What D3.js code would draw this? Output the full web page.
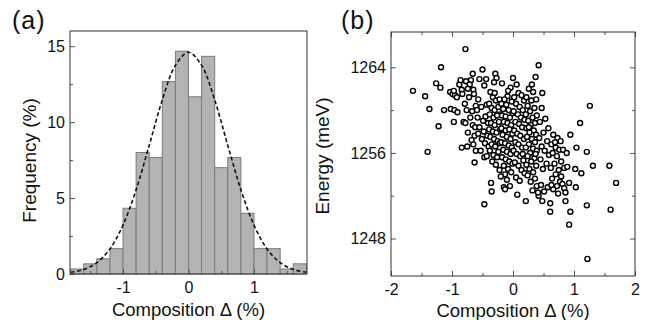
<!DOCTYPE html>
<html>
<head>
<meta charset="utf-8">
<script src="https://cdn.jsdelivr.net/npm/d3@7"></script>
<style>
  body { margin: 0; background: #fff; }
  svg { display: block; }
  text { font-family: "Liberation Sans", Arial, sans-serif; fill: #111; }
</style>
</head>
<body>
<svg id="chart" width="650" height="320"></svg>
<script>
// ---------------------------------------------------------------------------
// Données

// (a) histogramme : bords des classes (largeur 0.2 %) et fréquences (%)
const binEdges = [-1.8, -1.6, -1.4, -1.2, -1.0, -0.8, -0.6, -0.4, -0.2, 0, 0.2, 0.4, 0.6, 0.8, 1.0, 1.2, 1.4, 1.6, 1.8];
const binFreq = [0.33, 0.67, 1.0, 1.67, 4.33, 8.0, 7.67, 12.67, 14.67, 11.67, 14.33, 7.0, 7.67, 4.0, 1.67, 1.67, 0.33, 0.67];

// (a) courbe d'ajustement en pointillés (valeurs lues)
const fitX = [-1.8, -1.6, -1.4, -1.2, -1.0, -0.8, -0.6, -0.4, -0.2, 0, 0.2, 0.4, 0.6, 0.8, 1.0, 1.2, 1.4, 1.6, 1.8];
const fitY = [0.11, 0.30, 0.75, 1.65, 3.22, 5.55, 8.47, 11.46, 13.74, 14.6, 13.74, 11.46, 8.47, 5.55, 3.22, 1.65, 0.75, 0.30, 0.11];

// ticks (a)
const freqTicks = [0, 5, 10, 15];
const freqMinor = [2.5, 7.5, 12.5];
const compTicksA = [-1, 0, 1];
const compMinorA = [-1.5, -0.5, 0.5, 1.5];

// ticks (b)
const compTicksB = [-2, -1, 0, 1, 2];
const compMinorB = [-1.5, -0.5, 0.5, 1.5];
const energyTicks = [1248, 1256, 1264];
const energyMinor = [1252, 1260];

// (b) nuage de points : [composition (%), énergie (meV)]
const scatterPoints = [
  // -1.8 .. -1.0
  [-1.64, 1261.8],
  [-1.44, 1261.3], [-1.40, 1256.1],
  [-1.37, 1260.1], [-1.26, 1262.5], [-1.22, 1258.5],
  [-1.18, 1264.0], [-1.19, 1262.1], [-1.13, 1260.0], [-1.03, 1261.7], [-1.02, 1260.1],
  // -1.0 .. -0.8
  [-0.99, 1261.5], [-0.95, 1261.4], [-0.92, 1261.2], [-0.97, 1261.8], [-0.96, 1260.0], [-0.91, 1259.8],
  [-0.97, 1258.9], [-0.84, 1256.5], [-0.88, 1262.4], [-0.84, 1261.9], [-0.83, 1261.5], [-0.81, 1258.9], [-0.86, 1262.8],
  // -0.8 .. -0.6
  [-0.78, 1265.7], [-0.66, 1263.4], [-0.69, 1262.8], [-0.77, 1262.7], [-0.71, 1262.4], [-0.74, 1262.0],
  [-0.65, 1261.9], [-0.64, 1261.5], [-0.72, 1261.2], [-0.79, 1260.6], [-0.76, 1260.0], [-0.67, 1259.9],
  [-0.61, 1260.4], [-0.70, 1259.3], [-0.66, 1258.6], [-0.62, 1258.4], [-0.74, 1257.9], [-0.63, 1257.6],
  [-0.68, 1257.2], [-0.75, 1256.6], [-0.65, 1256.8], [-0.61, 1256.2], [-0.63, 1255.1], [-0.78, 1258.8],
  // -0.6 .. -0.4
  [-0.50, 1263.8], [-0.55, 1262.9], [-0.44, 1262.9], [-0.47, 1262.3], [-0.57, 1261.0], [-0.52, 1260.3],
  [-0.43, 1260.5], [-0.58, 1259.3], [-0.49, 1259.0], [-0.45, 1259.4], [-0.41, 1258.8], [-0.55, 1258.4],
  [-0.48, 1258.0], [-0.42, 1257.6], [-0.57, 1257.8], [-0.51, 1257.3], [-0.46, 1256.9], [-0.40, 1256.6],
  [-0.53, 1256.2], [-0.47, 1255.6], [-0.43, 1255.7], [-0.47, 1251.2], [-0.59, 1260.0],
  // -0.4 .. -0.2
  [-0.29, 1263.4], [-0.27, 1263.0], [-0.31, 1262.6], [-0.37, 1261.7], [-0.33, 1261.2], [-0.28, 1260.9],
  [-0.22, 1261.0], [-0.39, 1260.6], [-0.35, 1260.2], [-0.30, 1260.0], [-0.24, 1260.3], [-0.21, 1259.6],
  [-0.38, 1259.6], [-0.32, 1259.3], [-0.26, 1259.5], [-0.36, 1258.8], [-0.30, 1258.6], [-0.23, 1258.9],
  [-0.39, 1258.2], [-0.33, 1258.0], [-0.27, 1257.9], [-0.21, 1258.2], [-0.37, 1257.5], [-0.31, 1257.3],
  [-0.25, 1257.1], [-0.35, 1256.8], [-0.29, 1256.6], [-0.22, 1256.9], [-0.38, 1256.2], [-0.32, 1255.8],
  [-0.26, 1255.6], [-0.34, 1255.2], [-0.28, 1254.9], [-0.22, 1254.4], [-0.36, 1253.2], [-0.35, 1252.4],
  [-0.24, 1256.1], [-0.30, 1261.6],
  // -0.2 .. 0
  [-0.18, 1262.5], [-0.09, 1261.3], [-0.04, 1262.1], [-0.14, 1261.0], [-0.19, 1260.6], [-0.11, 1260.5],
  [-0.02, 1260.8], [-0.16, 1260.1], [-0.07, 1260.0], [-0.01, 1259.7], [-0.18, 1259.5], [-0.12, 1259.4],
  [-0.05, 1259.3], [-0.15, 1258.9], [-0.09, 1258.8], [-0.03, 1258.6], [-0.19, 1258.3], [-0.12, 1258.1],
  [-0.06, 1258.2], [-0.01, 1257.8], [-0.17, 1257.7], [-0.10, 1257.5], [-0.04, 1257.3], [-0.19, 1257.0],
  [-0.13, 1256.9], [-0.07, 1256.7], [-0.02, 1256.5], [-0.16, 1256.3], [-0.10, 1256.1], [-0.04, 1255.9],
  [-0.18, 1255.6], [-0.12, 1255.4], [-0.06, 1255.2], [-0.01, 1255.0], [-0.15, 1254.8], [-0.08, 1254.5],
  [-0.03, 1254.2], [-0.13, 1254.0], [-0.20, 1253.8], [-0.10, 1253.5], [-0.15, 1252.8], [-0.05, 1252.9],
  [-0.13, 1252.6], [-0.08, 1261.8],
  // 0 .. 0.2
  [0.00, 1263.0], [0.06, 1262.4], [0.09, 1261.6], [0.02, 1261.2], [0.14, 1261.4], [0.18, 1260.9],
  [0.05, 1260.6], [0.11, 1260.3], [0.16, 1260.0], [0.01, 1259.9], [0.08, 1259.6], [0.13, 1259.3],
  [0.19, 1259.1], [0.04, 1258.9], [0.10, 1258.7], [0.15, 1258.4], [0.02, 1258.1], [0.07, 1257.8],
  [0.12, 1257.6], [0.18, 1257.3], [0.04, 1257.0], [0.09, 1256.8], [0.15, 1256.5], [0.01, 1256.2],
  [0.06, 1255.9], [0.12, 1255.7], [0.17, 1255.3], [0.03, 1255.1], [0.09, 1254.8], [0.14, 1254.4],
  [0.19, 1254.1], [0.05, 1253.7], [0.11, 1253.4], [0.07, 1252.1], [0.16, 1255.9],
  // 0.2 .. 0.4
  [0.37, 1263.1], [0.26, 1262.0], [0.33, 1261.7], [0.22, 1261.2], [0.30, 1260.9], [0.38, 1261.0],
  [0.24, 1260.4], [0.35, 1260.2], [0.28, 1259.9], [0.21, 1259.6], [0.39, 1259.5], [0.32, 1259.3],
  [0.25, 1259.0], [0.36, 1258.8], [0.29, 1258.6], [0.22, 1258.3], [0.34, 1258.1], [0.27, 1257.9],
  [0.38, 1257.7], [0.23, 1257.5], [0.31, 1257.3], [0.36, 1257.0], [0.26, 1256.8], [0.21, 1256.5],
  [0.33, 1256.4], [0.39, 1256.2], [0.28, 1256.0], [0.24, 1255.7], [0.35, 1255.5], [0.30, 1255.2],
  [0.22, 1254.9], [0.38, 1254.8], [0.27, 1254.5], [0.33, 1254.2], [0.24, 1253.9], [0.36, 1253.6],
  [0.29, 1253.3], [0.39, 1252.9], [0.21, 1251.5], [0.32, 1252.5], [0.26, 1258.4], [0.31, 1262.4],
  [0.37, 1255.9],
  // 0.4 .. 0.6
  [0.42, 1264.2], [0.48, 1261.6], [0.47, 1260.2], [0.53, 1259.2], [0.44, 1258.9], [0.58, 1258.3],
  [0.50, 1257.9], [0.43, 1257.4], [0.56, 1257.1], [0.47, 1256.6], [0.52, 1256.2], [0.59, 1255.8],
  [0.45, 1255.4], [0.55, 1255.0], [0.49, 1254.5], [0.42, 1252.0], [0.51, 1252.4], [0.41, 1252.3],
  [0.48, 1251.5], [0.57, 1252.8], [0.46, 1253.0],
  // 0.6 .. 0.8
  [0.61, 1250.5], [0.61, 1251.3], [0.66, 1257.7], [0.73, 1257.4], [0.78, 1257.1], [0.63, 1256.8],
  [0.70, 1256.5], [0.76, 1256.3], [0.65, 1256.0], [0.72, 1255.7], [0.79, 1255.2], [0.68, 1255.0],
  [0.62, 1254.6], [0.75, 1254.4], [0.70, 1254.0], [0.64, 1253.6], [0.77, 1253.3], [0.72, 1252.9],
  [0.79, 1253.8], [0.66, 1252.6], [0.74, 1252.2], [0.69, 1257.0], [0.63, 1253.0],
  // 0.8 .. 1.0
  [0.94, 1257.7], [0.82, 1256.3], [0.88, 1256.0], [0.84, 1254.6], [0.81, 1253.1], [0.84, 1252.7],
  [0.86, 1252.3], [0.86, 1251.5], [0.92, 1253.2], [0.94, 1250.5], [0.92, 1249.3], [0.89, 1254.7],
  // 1.0 .. 1.8
  [1.10, 1258.8], [1.04, 1256.5], [1.02, 1254.5], [1.12, 1254.1], [1.03, 1252.8],
  [1.26, 1260.4], [1.21, 1256.1], [1.31, 1254.8], [1.21, 1251.1], [1.22, 1246.1],
  [1.58, 1254.8],
  [1.69, 1253.2], [1.60, 1250.7]
];

// ---------------------------------------------------------------------------
// Canevas

const svg = d3.select("#chart");

const frameA = { left: 70, right: 307, top: 31, bottom: 274 };
const frameB = { left: 391, right: 635, top: 32, bottom: 276 };

const frameColor = "#333";
const tickColor = "#555";
const tickFont = "16px";
const titleFont = "18.5px";

// format des étiquettes avec tiret simple "-"
const plainFormat = d => `${d}`;

// ---------------------------------------------------------------------------
// Panneau (a) : histogramme

const xA = d3.scaleLinear().domain([-1.81, 1.81]).range([frameA.left, frameA.right]);
const yA = d3.scaleLinear().domain([0, 16]).range([frameA.bottom, frameA.top]);

const gA = svg.append("g");

// barres
gA.selectAll("rect.bar")
  .data(binFreq)
  .join("rect")
  .attr("class", "bar")
  .attr("x", (d, i) => xA(binEdges[i]))
  .attr("y", d => yA(d))
  .attr("width", (d, i) => xA(binEdges[i + 1]) - xA(binEdges[i]))
  .attr("height", d => yA(0) - yA(d))
  .attr("fill", "#b3b3b3")
  .attr("stroke", "#7a7a7a")
  .attr("stroke-width", 1);

// courbe d'ajustement
const fitLine = d3.line()
  .x(d => xA(d[0]))
  .y(d => yA(d[1]))
  .curve(d3.curveCatmullRom);

gA.append("path")
  .attr("d", fitLine(fitX.map((x, i) => [x, fitY[i]])))
  .attr("fill", "none")
  .attr("stroke", "#111")
  .attr("stroke-width", 1.6)
  .attr("stroke-dasharray", "4,2.5");

// axes (ticks vers l'intérieur)
const styleAxis = g => {
  g.select(".domain").remove();
  g.selectAll(".tick line").attr("stroke", tickColor);
  g.selectAll(".tick text").style("font-size", tickFont).attr("fill", "#111");
};

gA.append("g")
  .attr("transform", `translate(${frameA.left}, 0)`)
  .call(d3.axisLeft(yA).tickValues(freqTicks).tickSize(-5).tickPadding(5).tickFormat(plainFormat))
  .call(styleAxis);

gA.append("g")
  .attr("transform", `translate(${frameA.left}, 0)`)
  .call(d3.axisLeft(yA).tickValues(freqMinor).tickSize(-3).tickFormat(""))
  .call(styleAxis);

gA.append("g")
  .attr("transform", `translate(0, ${frameA.bottom})`)
  .call(d3.axisBottom(xA).tickValues(compTicksA).tickSize(-5).tickPadding(8).tickFormat(plainFormat))
  .call(styleAxis);

gA.append("g")
  .attr("transform", `translate(0, ${frameA.bottom})`)
  .call(d3.axisBottom(xA).tickValues(compMinorA).tickSize(-3).tickFormat(""))
  .call(styleAxis);

// cadre
gA.append("rect")
  .attr("x", frameA.left)
  .attr("y", frameA.top)
  .attr("width", frameA.right - frameA.left)
  .attr("height", frameA.bottom - frameA.top)
  .attr("fill", "none")
  .attr("stroke", frameColor)
  .attr("stroke-width", 1);

// titres d'axes
gA.append("text")
  .attr("x", (frameA.left + frameA.right) / 2)
  .attr("y", 316)
  .attr("text-anchor", "middle")
  .style("font-size", titleFont)
  .text("Composition Δ (%)");

gA.append("text")
  .attr("transform", `translate(36, ${(frameA.top + frameA.bottom) / 2 + 8}) rotate(-90)`)
  .attr("text-anchor", "middle")
  .style("font-size", "19px")
  .text("Frequency (%)");

gA.append("text")
  .attr("x", 12)
  .attr("y", 29)
  .style("font-size", "25px")
  .style("letter-spacing", "1px")
  .text("(a)");

// ---------------------------------------------------------------------------
// Panneau (b) : nuage de points

const xB = d3.scaleLinear().domain([-2, 2]).range([frameB.left, frameB.right]);
const yB = d3.scaleLinear().domain([1244.5, 1267.3]).range([frameB.bottom, frameB.top]);

const gB = svg.append("g");

// axes gauche / bas avec étiquettes
gB.append("g")
  .attr("transform", `translate(${frameB.left}, 0)`)
  .call(d3.axisLeft(yB).tickValues(energyTicks).tickSize(-5).tickPadding(5).tickFormat(plainFormat))
  .call(styleAxis);

gB.append("g")
  .attr("transform", `translate(${frameB.left}, 0)`)
  .call(d3.axisLeft(yB).tickValues(energyMinor).tickSize(-3).tickFormat(""))
  .call(styleAxis);

gB.append("g")
  .attr("transform", `translate(0, ${frameB.bottom})`)
  .call(d3.axisBottom(xB).tickValues(compTicksB).tickSize(-5).tickPadding(8).tickFormat(plainFormat))
  .call(styleAxis);

gB.append("g")
  .attr("transform", `translate(0, ${frameB.bottom})`)
  .call(d3.axisBottom(xB).tickValues(compMinorB).tickSize(-3).tickFormat(""))
  .call(styleAxis);

// axes miroirs haut / droite sans étiquettes
gB.append("g")
  .attr("transform", `translate(0, ${frameB.top})`)
  .call(d3.axisTop(xB).tickValues(compTicksB).tickSize(-5).tickFormat(""))
  .call(styleAxis);

gB.append("g")
  .attr("transform", `translate(0, ${frameB.top})`)
  .call(d3.axisTop(xB).tickValues(compMinorB).tickSize(-3).tickFormat(""))
  .call(styleAxis);

gB.append("g")
  .attr("transform", `translate(${frameB.right}, 0)`)
  .call(d3.axisRight(yB).tickValues(energyTicks).tickSize(-5).tickFormat(""))
  .call(styleAxis);

gB.append("g")
  .attr("transform", `translate(${frameB.right}, 0)`)
  .call(d3.axisRight(yB).tickValues(energyMinor).tickSize(-3).tickFormat(""))
  .call(styleAxis);

// points
gB.selectAll("circle.pt")
  .data(scatterPoints)
  .join("circle")
  .attr("class", "pt")
  .attr("cx", d => xB(d[0]))
  .attr("cy", d => yB(d[1]))
  .attr("r", 2.5)
  .attr("fill", "#fff")
  .attr("stroke", "#000")
  .attr("stroke-width", 1.4);

// cadre
gB.append("rect")
  .attr("x", frameB.left)
  .attr("y", frameB.top)
  .attr("width", frameB.right - frameB.left)
  .attr("height", frameB.bottom - frameB.top)
  .attr("fill", "none")
  .attr("stroke", frameColor)
  .attr("stroke-width", 1);

// titres d'axes
gB.append("text")
  .attr("x", (frameB.left + frameB.right) / 2)
  .attr("y", 317)
  .attr("text-anchor", "middle")
  .style("font-size", titleFont)
  .text("Composition Δ (%)");

gB.append("text")
  .attr("transform", `translate(329, ${(frameB.top + frameB.bottom) / 2 + 2}) rotate(-90)`)
  .attr("text-anchor", "middle")
  .style("font-size", "19px")
  .text("Energy (meV)");

gB.append("text")
  .attr("x", 341)
  .attr("y", 29)
  .style("font-size", "25px")
  .style("letter-spacing", "1px")
  .text("(b)");
</script>
</body>
</html>
